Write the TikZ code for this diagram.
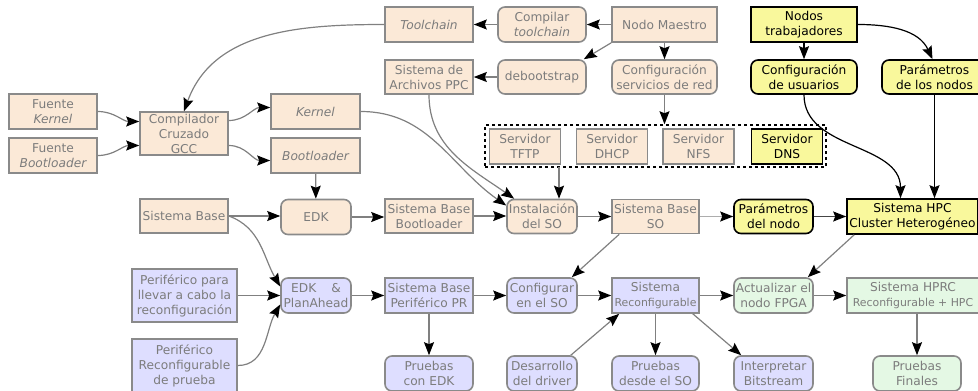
\documentclass[tikz,border=0pt]{standalone}
\usepackage{fontspec}
\setmainfont{DejaVu Sans}
\usetikzlibrary{arrows.meta}
\definecolor{peachfill}{HTML}{FBE9D7}
\definecolor{lavfill}{HTML}{DEDEFF}
\definecolor{mintfill}{HTML}{E4F8E4}
\definecolor{yellowfill}{HTML}{F9F89C}
\definecolor{bordergray}{HTML}{8A8A8A}
\definecolor{textgray}{HTML}{7C7C7C}
\definecolor{linegray}{HTML}{808080}
\definecolor{lightline}{HTML}{ADADAD}
\definecolor{darkline}{HTML}{454545}
\begin{document}
\begin{tikzpicture}[x=1pt,y=-1pt,
  box/.style={draw=bordergray, line width=1.6pt, text=textgray, align=center,
    inner sep=0pt, font=\fontsize{12.2}{15}\selectfont},
  rbox/.style={box, rounded corners=7pt},
  peach/.style={fill=peachfill},
  lav/.style={fill=lavfill},
  mint/.style={fill=mintfill},
  hpc/.style={fill=yellowfill, draw=black, text=black},
  sz/.style 2 args={minimum width=#1pt, minimum height=#2pt},
  flow/.style={draw=linegray, line width=1.2pt,
    -{Stealth[length=13pt, width=10pt, inset=2pt, color=black]}},
  blackflow/.style={flow, draw=black}
]
\useasboundingbox (0,0) rectangle (978,391);

% --- top rows: master node and worker nodes
\node[box,peach,sz={88}{35}] (tool) at (429,24.5) {\itshape Toolchain};
\node[rbox,peach,sz={88}{35}] (ctool) at (542,24.5) {Compilar\\\itshape toolchain};
\node[box,peach,sz={105}{35}] (maestro) at (664.5,24.5) {Nodo Maestro};
\node[box,hpc,sz={106}{35}] (trab) at (804,24.5) {Nodos\\trabajadores};

\node[box,peach,sz={88}{34}] (ppc) at (429,77) {Sistema de\\Archivos PPC};
\node[rbox,peach,sz={88}{34}] (deboot) at (542,77) {debootstrap};
\node[rbox,peach,sz={105}{34}] (red) at (664.5,77) {Configuración\\servicios de red};
\node[rbox,hpc,sz={106}{34}] (usu) at (804,77) {Configuración\\de usuarios};
\node[rbox,hpc,sz={105}{34}] (pnodos) at (934.5,77) {Parámetros\\de los nodos};

% --- cross compilation
\node[box,peach,sz={88}{35}] (fk) at (53,111.5) {Fuente\\\itshape Kernel};
\node[box,peach,sz={88}{35}] (fb) at (53,155.5) {Fuente\\\itshape Bootloader};
\node[box,peach,sz={88}{43}] (gcc) at (184,133.5) {Compilador\\Cruzado\\GCC};
\node[box,peach,sz={89}{35}] (kern) at (315.5,111.5) {\itshape Kernel};
\node[box,peach,sz={89}{35}] (boot) at (315.5,155.5) {\itshape Bootloader};

% --- network services
\node[draw=black, line width=1.5pt, dash pattern=on 3pt off 3pt, sz={341}{42}, inner sep=0pt] (srv) at (655.5,146) {};
\node[box,peach,sz={71}{35}] (tftp) at (525,146.5) {Servidor\\TFTP};
\node[box,peach,sz={71}{35}] (dhcp) at (612,146.5) {Servidor\\DHCP};
\node[box,peach,sz={71}{35}] (nfs) at (698.5,146.5) {Servidor\\NFS};
\node[box,hpc,sz={71}{35}] (dns) at (787,146.5) {Servidor\\DNS};

% --- base system row
\node[box,peach,sz={88}{34}] (sbase) at (184,216) {Sistema Base};
\node[rbox,peach,sz={70}{35}] (edk) at (316,217) {EDK};
\node[box,peach,sz={88}{34}] (sbb) at (429,216) {Sistema Base\\Bootloader};
\node[rbox,peach,sz={70}{34}] (inst) at (542,216.5) {Instalación\\del SO};
\node[box,peach,sz={87}{34}] (sbso) at (655.5,216.5) {Sistema Base\\SO};
\node[rbox,hpc,sz={79}{34}] (pnodo) at (773.5,216.5) {Parámetros\\del nodo};
\node[box,hpc,sz={131}{35}] (shpc) at (912.5,216.5) {Sistema HPC\\Cluster Heterogéneo};

% --- reconfigurable row
\node[box,lav,sz={105}{53}] (per1) at (184.5,295.5) {Periférico para\\llevar a cabo la\\reconfiguración};
\node[rbox,lav,sz={70}{35}] (edkpa) at (316,295.5) {EDK\hspace{15pt}\&\\PlanAhead};
\node[box,lav,sz={88}{35}] (sbpr) at (429,295.5) {Sistema Base\\Periférico PR};
\node[rbox,lav,sz={70}{35}] (conf) at (542,295.5) {Configurar\\en el SO};
\node[box,lav,sz={87}{35}] (srec) at (655.5,295.5) {Sistema\\{\fontsize{10.9}{13}\selectfont Reconfigurable}};
\node[rbox,mint,sz={79}{35}] (act) at (773.5,295.5) {Actualizar el\\nodo FPGA};
\node[box,mint,sz={132}{35}] (hprc) at (913,295.5) {Sistema HPRC\\{\fontsize{10.9}{13}\selectfont Reconfigurable + HPC}};

% --- tests row
\node[box,lav,sz={105}{53}] (per2) at (184.5,365.5) {Periférico\\Reconfigurable\\de prueba};
\node[rbox,lav,sz={88}{35}] (pedk) at (429,373.5) {Pruebas\\con EDK};
\node[rbox,lav,sz={70}{35}] (drv) at (542,373.5) {Desarrollo\\del driver};
\node[rbox,lav,sz={87}{35}] (pso) at (655.5,373.5) {Pruebas\\desde el SO};
\node[rbox,lav,sz={79}{35}] (bits) at (773.5,373.5) {Interpretar\\Bitstream};
\node[rbox,mint,sz={88}{35}] (pfin) at (917,373.5) {Pruebas\\Finales};

\coordinate (drop) at (559,167);

% --- connectors
\draw[flow] (maestro) -- (ctool);
\draw[flow] (ctool) -- (tool);
\draw[flow] (maestro.south west) -- ([xshift=-3pt]deboot.north east);
\draw[flow] (deboot) -- (ppc);
\draw[flow] (maestro) -- (red);
\draw[flow] (red.south) -- (red.south |- srv.north);
\draw[flow] (tool.west) to[out=180,in=70] (gcc.north);
\draw[flow] (fk.east) to[out=0,in=180] ([yshift=12pt]gcc.west);
\draw[flow] (fb.east) to[out=0,in=180] ([yshift=-12pt]gcc.west);
\draw[flow] ([yshift=13pt]gcc.east) to[out=0,in=180] ([yshift=4pt]kern.west);
\draw[flow] ([yshift=-12pt]gcc.east) to[out=0,in=180] ([yshift=-5pt]boot.west);
\draw[flow] (boot) -- (edk);
\draw[flow] (sbase.east) -- (sbase.east -| edk.west);
\draw[flow] (sbase.east) to[out=-20,in=120] ([yshift=9pt]edkpa.west);
\draw[flow] (per1) -- (edkpa);
\draw[flow] (per2.east) to[out=0,in=-120] ([yshift=-9pt]edkpa.west);
\draw[flow] (edk) -- (edk -| sbb.west);
\draw[flow] (sbb) -- (sbb -| inst.west);
\draw[flow] (kern.east) to[out=0,in=145] ([yshift=11pt]inst.west);
\draw[flow] (ppc.south) to[out=-90,in=145] ([xshift=8pt]inst.north west);
\draw[flow] (drop) -- (drop |- inst.north);
\draw[flow] (inst) -- (sbso);
\draw[flow,draw=lightline] (sbso) -- (pnodo);
\draw[flow,draw=darkline] (pnodo) -- (shpc);
\draw[blackflow] (trab) -- (usu);
\draw[blackflow] (trab.east) to[out=0,in=115] ([xshift=-2pt]pnodos.north);
\draw[blackflow] (usu.south) to[out=-90,in=90] ([xshift=-12pt]shpc.north);
\draw[blackflow] (pnodos.south) -- (pnodos.south |- shpc.north);
\draw[flow] ([xshift=8pt]sbso.south west) -- ([xshift=-6pt]conf.north east);
\draw[flow] ([xshift=8pt]shpc.south west) -- ([xshift=-6pt]act.north east);
\draw[flow] (edkpa) -- (sbpr);
\draw[flow] (sbpr) -- (pedk);
\draw[flow] (sbpr) -- (conf);
\draw[flow] (conf) -- (srec);
\draw[flow] ([xshift=-7pt]drv.north east) -- ([xshift=8pt]srec.south west);
\draw[flow] (srec) -- (pso);
\draw[flow] ([xshift=-7pt]srec.south east) -- ([xshift=8pt]bits.north west);
\draw[flow] (srec) -- (act);
\draw[flow] (act) -- (hprc);
\draw[flow] (pfin.north |- hprc.south) -- (pfin.north);
\end{tikzpicture}
\end{document}
